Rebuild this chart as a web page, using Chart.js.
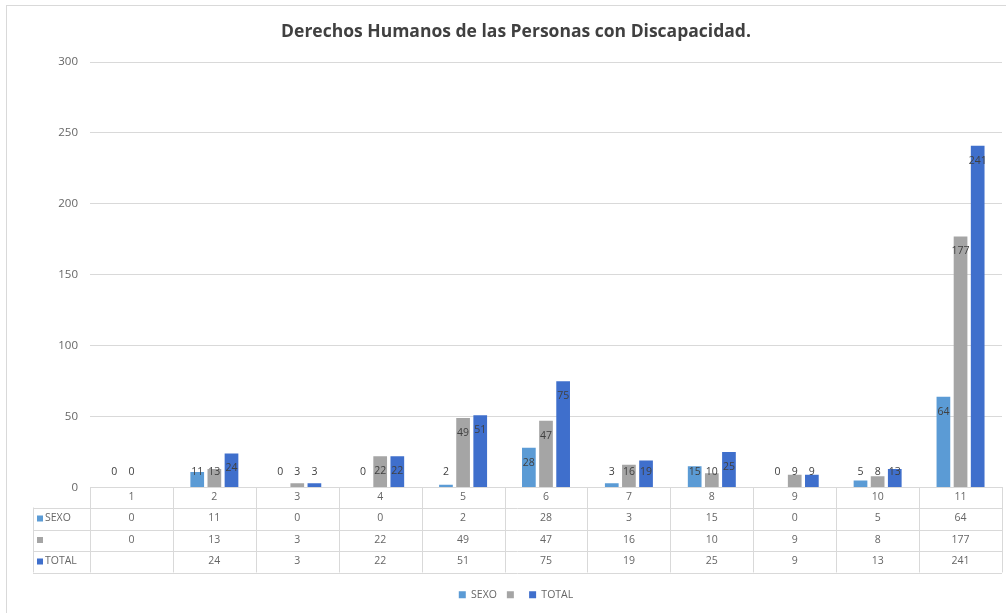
<!DOCTYPE html>
<html>
<head>
<meta charset="utf-8">
<script src="https://cdn.jsdelivr.net/npm/chart.js@4.4.1/dist/chart.umd.min.js"></script>
<style>
  html, body { margin: 0; padding: 0; background: #fff; }
  #wrap { width: 1006px; height: 613px; position: relative; }
</style>
</head>
<body>
<div id="wrap"><canvas id="chart" width="1006" height="613"></canvas></div>
<script>
// categories and series
const categories = ['1', '2', '3', '4', '5', '6', '7', '8', '9', '10', '11'];
const sexo = [0, 11, 0, 0, 2, 28, 3, 15, 0, 5, 64];
const serie2 = [0, 13, 3, 22, 49, 47, 16, 10, 9, 8, 177];
const total = [null, 24, 3, 22, 51, 75, 19, 25, 9, 13, 241];
const seriesNames = ['SEXO', '', 'TOTAL'];
const yTicks = [0, 50, 100, 150, 200, 250, 300];

const colors = ['#5b9bd5', '#a5a5a5', '#3f6fcc'];
const textColor = '#666666';
const lineColor = '#d9d9d9';

// bar value labels: inside near top, or above small bars
const valueLabels = {
    id: 'valueLabels',
    afterDatasetsDraw(chart) {
        const ctx = chart.ctx;
        const base = chart.scales.y.getPixelForValue(0);
        ctx.save();
        ctx.font = '10.5px "Open Sans", sans-serif';
        ctx.fillStyle = '#404040';
        ctx.textAlign = 'center';
        ctx.textBaseline = 'middle';
        chart.data.datasets.forEach((ds, i) => {
            chart.getDatasetMeta(i).data.forEach((bar, j) => {
                const v = ds.data[j];
                if (v === null || v === undefined) return;
                const y = Math.min(bar.y + 15, base - 15);
                ctx.fillText(String(v), bar.x, y);
            });
        });
        ctx.restore();
    }
};

// data table under the axis
const dataTable = {
    id: 'dataTable',
    afterDraw(chart) {
        const ctx = chart.ctx;
        const xs = chart.scales.x;
        const top = chart.chartArea.bottom;
        const rows = [top, top + 20, top + 42, top + 63, top + 85];
        const leftCol = 33;
        const right = xs.right;
        const colW = xs.width / categories.length;

        ctx.save();
        ctx.strokeStyle = lineColor;
        ctx.lineWidth = 1;
        ctx.beginPath();
        // horizontal lines
        for (let r = 1; r < rows.length; r++) {
            ctx.moveTo(leftCol, Math.round(rows[r]) + 0.5);
            ctx.lineTo(right, Math.round(rows[r]) + 0.5);
        }
        // vertical lines
        ctx.moveTo(leftCol + 0.5, rows[1]);
        ctx.lineTo(leftCol + 0.5, rows[4]);
        for (let c = 0; c <= categories.length; c++) {
            const x = Math.round(xs.left + c * colW) + 0.5;
            ctx.moveTo(x, rows[0]);
            ctx.lineTo(x, rows[4]);
        }
        ctx.stroke();

        ctx.font = '10.5px "Open Sans", sans-serif';
        ctx.fillStyle = textColor;
        ctx.textBaseline = 'middle';
        ctx.textAlign = 'center';
        categories.forEach((c, i) => {
            ctx.fillText(c, xs.left + (i + 0.5) * colW, (rows[0] + rows[1]) / 2);
        });
        const series = [sexo, serie2, total];
        series.forEach((arr, s) => {
            const cy = (rows[s + 1] + rows[s + 2]) / 2;
            ctx.textAlign = 'center';
            ctx.fillStyle = textColor;
            arr.forEach((v, i) => {
                if (v === null) return;
                ctx.fillText(String(v), xs.left + (i + 0.5) * colW, cy);
            });
            ctx.fillStyle = colors[s];
            ctx.fillRect(leftCol + 4, cy - 3, 6, 6);
            ctx.fillStyle = textColor;
            ctx.textAlign = 'left';
            ctx.fillText(seriesNames[s], leftCol + 12, cy);
        });

        // outer chart border
        ctx.strokeStyle = lineColor;
        ctx.strokeRect(6.5, 5.5, 1010, 620);
        ctx.restore();
    }
};

const ctx = document.getElementById('chart').getContext('2d');
new Chart(ctx, {
    type: 'bar',
    data: {
        labels: categories,
        datasets: seriesNames.map((name, i) => ({
            label: name,
            data: [sexo, serie2, total][i],
            backgroundColor: colors[i],
            categoryPercentage: 0.62,
            barPercentage: 0.8
        }))
    },
    options: {
        responsive: false,
        animation: false,
        layout: { padding: { left: 30, right: 4, top: 0, bottom: 3 } },
        plugins: {
            title: {
                display: true,
                text: 'Derechos Humanos de las Personas con Discapacidad.',
                color: '#404040',
                font: { family: '"Open Sans", sans-serif', size: 17.5, weight: 'bold' },
                padding: { top: 22, bottom: 19 }
            },
            legend: {
                position: 'bottom',
                labels: {
                    color: textColor,
                    font: { family: '"Open Sans", sans-serif', size: 10.5 },
                    boxWidth: 7,
                    boxHeight: 7,
                    padding: 10
                }
            },
            tooltip: { enabled: false }
        },
        scales: {
            x: {
                grid: { display: false },
                border: { display: true, color: lineColor },
                ticks: { display: false },
                afterFit(scale) { scale.height = 92; }
            },
            y: {
                min: 0,
                max: 300,
                afterBuildTicks(scale) { scale.ticks = yTicks.map(v => ({ value: v })); },
                afterFit(scale) { scale.width = 60; },
                grid: { color: lineColor, drawTicks: false },
                border: { display: false },
                ticks: {
                    color: textColor,
                    padding: 12,
                    font: { family: '"Open Sans", sans-serif', size: 11.5 }
                }
            }
        }
    },
    plugins: [valueLabels, dataTable]
});
</script>
</body>
</html>
